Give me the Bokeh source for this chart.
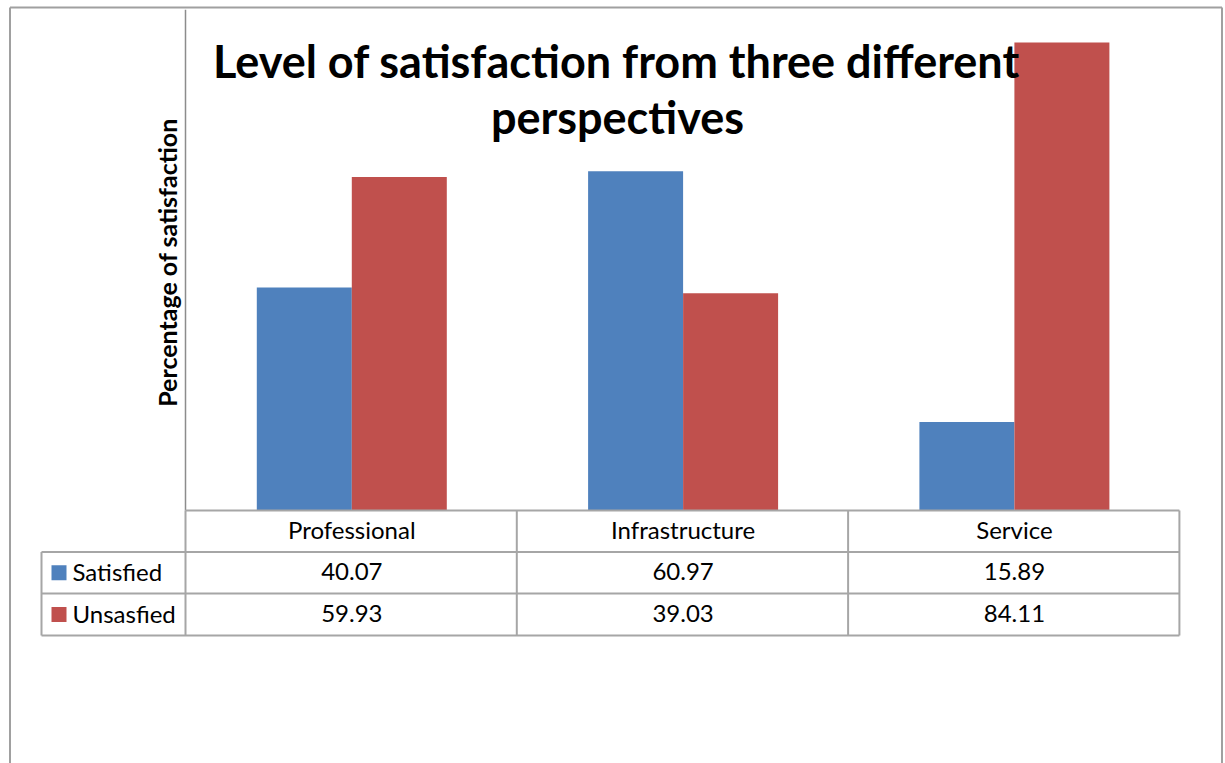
import numpy as np
from bokeh.plotting import figure
from bokeh.models import ColumnDataSource, Range1d
from bokeh.core.properties import value
from bokeh.transform import dodge
from bokeh.embed import file_html
from bokeh.resources import INLINE

# ---------------- data ----------------
categories = ["Professional", "Infrastructure", "Service"]
satisfied = [40.07, 60.97, 15.89]
unsatisfied = [59.93, 39.03, 84.11]
series_names = ["Satisfied", "Unsasfied"]
title_lines = ["Level of satisfaction from three different", "perspectives"]
y_label = "Percentage  of satisfaction"
y_max = 90

BLUE = "#4F81BD"
RED = "#C0504D"
GRID = "#A6A6A6"
FONT = "Lato"

OFF = 0                       # where the figure lands on the page
W, H = 1225, 763
# image-pixel <-> data mapping
X0, SX = 351.3, 331.3         # centre of first category column, column width
Y0, SY = 510.0, 5.564         # baseline pixel, pixels per percent


def U(px):
    return (px - X0) / SX


def V(py):
    return (Y0 - py) / SY


p = figure(width=W, height=H, output_backend="svg", toolbar_location=None,
           x_range=Range1d(U(OFF), U(OFF + W)), y_range=Range1d(V(OFF + H), V(OFF)),
           x_axis_location=None, y_axis_location=None, min_border=0,
           outline_line_color=None)
p.xgrid.visible = False
p.ygrid.visible = False
p.background_fill_color = "white"
p.border_fill_color = "white"

src = ColumnDataSource(dict(x=np.arange(len(categories)), sat=satisfied, uns=unsatisfied))
bw = 95 / SX
p.vbar(x=dodge("x", -bw / 2), top="sat", bottom=0, width=bw, source=src,
       fill_color=BLUE, line_color=None)
p.vbar(x=dodge("x", bw / 2), top="uns", bottom=0, width=bw, source=src,
       fill_color=RED, line_color=None)

# outer frame (left, top, right)
p.segment(x0=[U(9.5), U(9.5), U(1221.5)], y0=[V(780), V(7), V(7)],
          x1=[U(9.5), U(1221.5), U(1221.5)], y1=[V(7), V(7), V(780)],
          line_color="#A0A0A0", line_width=2)

# value axis line
p.segment(x0=[U(185)], y0=[y_max], x1=[U(185)], y1=[0], line_color="#8C8C8C", line_width=1.5)

# data table grid
col_edges = [185 + i * SX for i in range(len(categories) + 1)]
row_edges = [510, 551.5, 593, 635]
hx0, hy0, hx1, hy1 = [], [], [], []
hx0.append(U(185)); hx1.append(U(col_edges[-1])); hy0.append(V(row_edges[0])); hy1.append(V(row_edges[0]))
for r in row_edges[1:]:
    hx0.append(U(41)); hx1.append(U(col_edges[-1])); hy0.append(V(r)); hy1.append(V(r))
vx0, vy0, vx1, vy1 = [U(41)], [V(row_edges[1])], [U(41)], [V(row_edges[-1])]
vx0.append(U(185)); vy0.append(V(row_edges[0])); vx1.append(U(185)); vy1.append(V(row_edges[-1]))
for c in col_edges[1:]:
    vx0.append(U(c)); vy0.append(V(row_edges[0])); vx1.append(U(c)); vy1.append(V(row_edges[-1]))
p.segment(x0=hx0 + vx0, y0=hy0 + vy0, x1=hx1 + vx1, y1=hy1 + vy1,
          line_color=GRID, line_width=2)

# table texts
row_mid = [(row_edges[i] + row_edges[i + 1]) / 2 - 1.5 for i in range(3)]
xs = list(np.arange(len(categories)))
TS = "24px"
p.text(x=xs, y=[V(row_mid[0])] * 3, text=categories, text_align="center",
       text_baseline="middle", text_font=value(FONT), text_font_size=TS, text_color="black")
p.text(x=xs, y=[V(row_mid[1])] * 3, text=["%.2f" % v for v in satisfied], text_align="center",
       text_baseline="middle", text_font=value(FONT), text_font_size=TS, text_color="black")
p.text(x=xs, y=[V(row_mid[2])] * 3, text=["%.2f" % v for v in unsatisfied], text_align="center",
       text_baseline="middle", text_font=value(FONT), text_font_size=TS, text_color="black")

# legend keys in table
p.rect(x=[U(58.5)] * 2, y=[V(row_mid[1] + 1.5), V(row_mid[2] + 1.5)], width=15 / SX, height=15 / SY,
       fill_color=[BLUE, RED], line_color=None)
p.text(x=[U(72)] * 2, y=[V(row_mid[1]), V(row_mid[2])], text=series_names, text_align="left",
       text_baseline="middle", text_font=value(FONT), text_font_size=TS, text_color="black")

# title
p.text(x=[U(616), U(617)], y=[V(60), V(116)], text=title_lines, text_align="center",
       text_baseline="middle", text_font=value(FONT), text_font_size="45px",
       text_font_style="bold", text_color="black")

# y axis label
p.text(x=[U(166)], y=[V(259)], text=[y_label], angle=np.pi / 2, text_align="center",
       text_baseline="middle", text_font=value(FONT), text_font_size="25px",
       text_font_style="bold", text_color="black")

open("out.html", "w").write(file_html(p, INLINE))
